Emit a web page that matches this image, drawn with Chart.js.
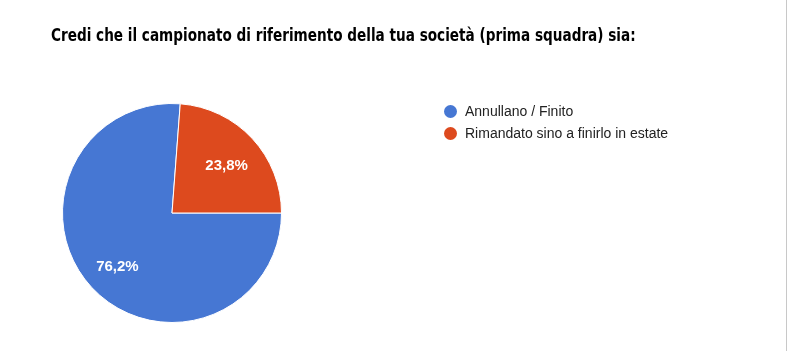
<!DOCTYPE html>
<html>
<head>
<meta charset="utf-8">
<script src="https://cdn.jsdelivr.net/npm/chart.js@4/dist/chart.umd.min.js"></script>
<style>
  body { margin: 0; background: #fff; }
  #wrap { position: relative; width: 788px; height: 351px; overflow: hidden; }
  #pie { position: absolute; left: 0; top: 0; }
  #title {
    position: absolute; left: 51px; top: 25px;
    font: bold 17px "Liberation Sans Narrow", "DejaVu Sans Condensed", sans-serif;
    color: #000; white-space: nowrap;
    transform: scaleX(0.89); transform-origin: left top;
  }
  #legend { position: absolute; left: 444px; top: 100px; font: 14px "Liberation Sans", Arial, sans-serif; color: #222; }
  #legend .item { display: flex; align-items: center; height: 22px; white-space: nowrap; }
  #legend .dot { width: 13px; height: 13px; border-radius: 50%; margin-right: 8px; }
  #edge { position: absolute; left: 786px; top: 0; width: 1px; height: 351px; background: #c8c8c8; }
</style>
</head>
<body>
<div id="wrap">
  <canvas id="pie" width="788" height="351"></canvas>
  <div id="title">Credi che il campionato di riferimento della tua società (prima squadra) sia:</div>
  <div id="legend"></div>
  <div id="edge"></div>
</div>
<script>
const labels = ['Annullano / Finito', 'Rimandato sino a finirlo in estate'];
const percents = [76.2, 23.8];
const colors = ['#4677d3', '#dd4a1e'];

let pie = document.getElementById('pie')
let legend = document.getElementById('legend')

// legend built from the same arrays
labels.forEach((name, i) => {
  let item = document.createElement('div')
  item.className = 'item'
  let dot = document.createElement('span')
  dot.className = 'dot'
  dot.style.background = colors[i]
  item.appendChild(dot)
  item.appendChild(document.createTextNode(name))
  legend.appendChild(item)
})

// percentage text inside each slice
const sliceLabels = {
  id: 'sliceLabels',
  afterDatasetsDraw(chart) {
    const ctx = chart.ctx
    const meta = chart.getDatasetMeta(0)
    ctx.save()
    ctx.font = 'bold 15px "Liberation Sans", Arial, sans-serif'
    ctx.fillStyle = '#fff'
    ctx.textAlign = 'center'
    ctx.textBaseline = 'middle'
    meta.data.forEach((arc, i) => {
      const p = arc.getProps(['x', 'y', 'startAngle', 'endAngle', 'outerRadius'], true)
      const mid = (p.startAngle + p.endAngle) / 2
      const r = p.outerRadius * 0.68
      const text = percents[i].toFixed(1).replace('.', ',') + '%'
      ctx.fillText(text, p.x + Math.cos(mid) * r, p.y + Math.sin(mid) * r + 3)
    })
    ctx.restore()
  }
}

const pie_data = {
  labels: labels,
  datasets: [{
    data: percents,
    backgroundColor: colors,
    borderColor: '#fff',
    borderWidth: 1,
  }]
};

new Chart(pie, {
  type: 'pie',
  data: pie_data,
  options: {
    responsive: false,
    animation: false,
    rotation: 90,
    layout: {
      padding: { left: 62, right: 506, top: 103, bottom: 28 }
    },
    plugins: {
      legend: { display: false },
      tooltip: { enabled: false }
    }
  },
  plugins: [sliceLabels]
})
</script>
</body>
</html>
